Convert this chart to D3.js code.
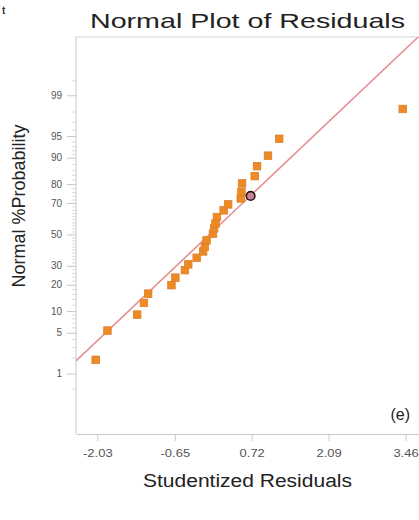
<!DOCTYPE html>
<html><head><meta charset="utf-8">
<script src="https://cdn.jsdelivr.net/npm/d3@7"></script>
<style>
html,body{margin:0;padding:0;background:#fff;}
svg{display:block;font-family:"Liberation Sans",Arial,sans-serif;}
</style></head>
<body>
<svg id="chart" width="419" height="520"></svg>
<script>
// ---- data ----
const residuals = [-2.06,-1.85,-1.32,-1.20,-1.125,-0.71,-0.64,-0.47,-0.41,-0.26,-0.145,-0.115,-0.085,0.03,0.05,0.075,0.10,0.22,0.30,0.525,0.537,0.548,0.774,0.815,1.01,1.21,3.41];
const probabilities = [1.8,5.4,9.0,12.6,16.1,19.8,23.5,27.5,30.8,34.8,38.8,41.8,46.0,50.5,54.0,57.2,61.4,65.6,69.2,72.6,76.1,80.3,83.5,87.3,90.6,94.5,98.2];
const highlightResidual = [0.70];
const highlightProbability = [74.0];
const xTicks = [-2.03,-0.65,0.72,2.09,3.46];
const xTickLabels = ["-2.03","-0.65","0.72","2.09","3.46"];
const yTicks = [1,5,10,20,30,50,70,80,90,95,99];
const yTickLabels = ["1","5","10","20","30","50","70","80","90","95","99"];
const yMinorTicks = [0.5,2,3,4,6,7,8,9,12,14,16,18,22,24,26,28,32,34,36,38,40,42,44,46,48,52,54,56,58,60,62,64,66,68,72,74,76,78,82,84,86,88,91,92,93,94,96,97,98,99.5];
const fitLine = {mean:-0.03, sd:1.126};

// inverse standard normal CDF (Acklam)
function probit(p){
  const a=[-3.969683028665376e+01,2.209460984245205e+02,-2.759285104469687e+02,1.383577518672690e+02,-3.066479806614716e+01,2.506628277459239e+00];
  const b=[-5.447609879822406e+01,1.615858368580409e+02,-1.556989798598866e+02,6.680131188771972e+01,-1.328068155288572e+01];
  const c=[-7.784894002430293e-03,-3.223964580411365e-01,-2.400758277161838e+00,-2.549732539343734e+00,4.374664141464968e+00,2.938163982698783e+00];
  const d=[7.784695709041462e-03,3.224671290700398e-01,2.445134137142996e+00,3.754408661907416e+00];
  const pl=0.02425, ph=1-pl; let q,r;
  if(p<pl){q=Math.sqrt(-2*Math.log(p));return (((((c[0]*q+c[1])*q+c[2])*q+c[3])*q+c[4])*q+c[5])/((((d[0]*q+d[1])*q+d[2])*q+d[3])*q+1);}
  if(p<=ph){q=p-0.5;r=q*q;return (((((a[0]*r+a[1])*r+a[2])*r+a[3])*r+a[4])*r+a[5])*q/(((((b[0]*r+b[1])*r+b[2])*r+b[3])*r+b[4])*r+1);}
  q=Math.sqrt(-2*Math.log(1-p));return -(((((c[0]*q+c[1])*q+c[2])*q+c[3])*q+c[4])*q+c[5])/((((d[0]*q+d[1])*q+d[2])*q+d[3])*q+1);
}

const svg = d3.select("#chart");
const L=76, R=419, T=37, B=434;
const x = d3.scaleLinear().domain([-2.41,3.70]).range([L,R]);
const yz = d3.scaleLinear().domain([-3.32,3.30]).range([433,37]);
const yp = p => yz(probit(p/100));

// frame
svg.append("line").attr("x1",L).attr("x2",R+2).attr("y1",T).attr("y2",T).attr("stroke","#d4d4d4").attr("stroke-width",1);

// x axis
const xAxis = svg.append("g").attr("transform",`translate(0,${B})`)
  .call(d3.axisBottom(x).tickValues(xTicks).tickFormat((d,i)=>xTickLabels[i]).tickSize(7).tickSizeOuter(0).tickPadding(9));
xAxis.select(".domain").attr("stroke","#c8c8c8");
xAxis.selectAll(".tick line").attr("stroke","#c8c8c8");
xAxis.selectAll(".tick text").attr("fill","#555").attr("font-size",10).attr("transform","scale(1.3,1)")
  .attr("font-family","Liberation Sans, Arial, sans-serif");

// y axis minor
const yMinor = svg.append("g").attr("transform",`translate(${L},0)`)
  .call(d3.axisLeft(yz).tickValues(yMinorTicks.map(p=>probit(p/100))).tickFormat("").tickSize(4).tickSizeOuter(0));
yMinor.select(".domain").remove();
yMinor.selectAll(".tick line").attr("stroke","#dcdcdc");

// y axis major
const yAxis = svg.append("g").attr("transform",`translate(${L},0)`)
  .call(d3.axisLeft(yz).tickValues(yTicks.map(p=>probit(p/100))).tickFormat((d,i)=>yTickLabels[i]).tickSize(9).tickSizeOuter(0).tickPadding(4));
yAxis.select(".domain").attr("stroke","#c8c8c8").attr("d",`M0,${T}V${B}`);
yAxis.selectAll(".tick line").attr("stroke","#c8c8c8");
yAxis.selectAll(".tick text").attr("fill","#555").attr("font-size",10).attr("x",-14)
  .attr("font-family","Liberation Sans, Arial, sans-serif");

// clip
svg.append("clipPath").attr("id","plotclip").append("rect").attr("x",L).attr("y",T).attr("width",R-L+2).attr("height",B-T);

// fitted line
const xd = x.domain();
const lineData = xd.map(r=>({r, z:(r-fitLine.mean)/fitLine.sd}));
svg.append("path").datum(lineData).attr("clip-path","url(#plotclip)")
  .attr("d", d3.line().x(d=>x(d.r)).y(d=>yz(d.z)))
  .attr("fill","none").attr("stroke","#e58f95").attr("stroke-width",1.6);

// points
const pts = residuals.map((r,i)=>({r, p:probabilities[i]}));
const s = 7.5;
svg.append("g").selectAll("rect").data(pts).join("rect")
  .attr("x",d=>x(d.r)-s/2).attr("y",d=>yp(d.p)-s/2).attr("width",s).attr("height",s)
  .attr("fill","#ee8a24").attr("stroke","#de7f2a").attr("stroke-width",0.8);

// highlighted point
svg.append("g").selectAll("circle").data(highlightResidual.map((r,i)=>({r,p:highlightProbability[i]}))).join("circle")
  .attr("cx",d=>x(d.r)).attr("cy",d=>yp(d.p)).attr("r",4.3)
  .attr("fill","#c9848f").attr("stroke","#2a1418").attr("stroke-width",1.6);

// texts
svg.append("text").attr("x",2).attr("y",14).attr("font-size",10).attr("font-weight","bold").attr("fill","#333").text("t");
svg.append("text").attr("x",90).attr("y",28).attr("font-size",21).attr("fill","#222")
  .attr("textLength",315).attr("lengthAdjust","spacingAndGlyphs").text("Normal Plot of Residuals");
svg.append("text").attr("x",143).attr("y",487).attr("font-size",18).attr("fill","#222")
  .attr("textLength",209).attr("lengthAdjust","spacingAndGlyphs").text("Studentized Residuals");
svg.append("text").attr("transform","translate(25,206) rotate(-90)").attr("text-anchor","middle")
  .attr("font-size",18).attr("fill","#222").text("Normal %Probability");
svg.append("text").attr("x",410).attr("y",420).attr("text-anchor","end").attr("font-size",16).attr("fill","#222").text("(e)");
</script>
</body></html>
